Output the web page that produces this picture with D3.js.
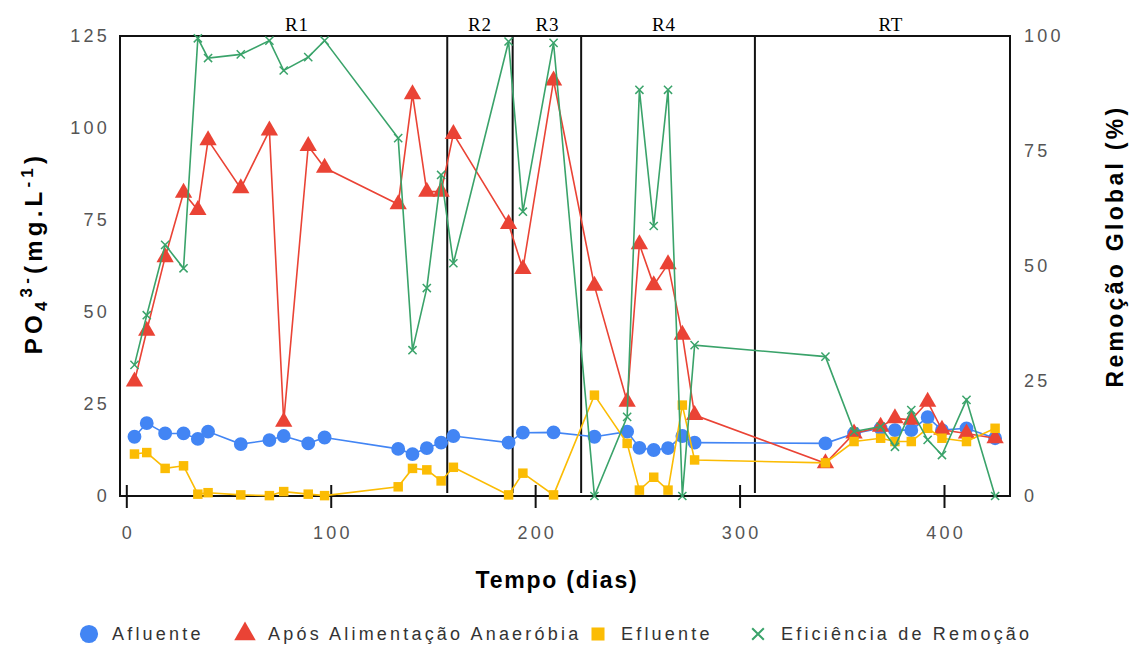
<!DOCTYPE html>
<html>
<head>
<meta charset="utf-8">
<script src="https://cdn.jsdelivr.net/npm/d3@7"></script>
<style>
  body { margin: 0; background: #fff; }
  svg { display: block; font-family: Arial, "Liberation Sans", sans-serif; }
</style>
</head>
<body>
<div id="chart"></div>
<script>
// ---- DATA ----
const days = [4, 10, 19, 28, 35, 40, 56, 70, 77, 89, 97, 133, 140, 147, 154, 160, 187, 194, 209,
  229, 245, 251, 258, 265, 272, 278, 342, 356, 369, 376, 384, 392, 399, 411, 425];

const afluente = [16.1, 19.8, 17.0, 17.0, 15.5, 17.5, 14.1, 15.2, 16.3, 14.3, 15.9, 12.8, 11.4, 13.0,
  14.5, 16.3, 14.5, 17.2, 17.3, 16.1, 17.5, 13.1, 12.5, 13.0, 16.3, 14.5, 14.3, 17.0, 18.4, 17.9,
  17.9, 21.4, 17.9, 18.4, 15.7];

const aposAnaerobia = [31.1, 44.9, 64.9, 82.4, 77.7, 96.7, 83.6, 99.3, 20.2, 95.1, 89.2, 79.3, 109.2,
  82.7, 82.7, 98.4, 73.9, 61.7, 112.9, 57.1, 25.6, 68.4, 57.3, 63.0, 43.8, 22.0, 8.9, 17.0, 18.8,
  21.1, 20.7, 25.6, 18.0, 17.0, 15.7];

const efluente = [11.4, 11.8, 7.5, 8.2, 0.5, 0.9, 0.3, 0.1, 1.2, 0.5, 0.1, 2.5, 7.5, 7.1, 4.1, 7.8,
  0.3, 6.2, 0.3, 27.4, 14.3, 1.6, 5.1, 1.6, 24.7, 9.8, 9.0, 14.8, 15.7, 14.8, 14.8, 18.4, 15.7,
  14.8, 18.4];

const eficiencia = [28.5, 39.3, 54.6, 49.5, 99.5, 95.2, 96.0, 99.0, 92.5, 95.4, 99.0, 77.8, 31.7,
  45.2, 69.8, 50.6, 98.8, 61.8, 98.5, 0, 17.2, 88.3, 58.7, 88.3, 0, 32.8, 30.3, 14.0, 15.1, 10.7,
  18.7, 12.2, 8.9, 20.9, 0];

// reactor phases: boundaries (days) and label positions
const phaseBounds = [157, 189, 222.5, 307.5];
const phaseNames = ["R1", "R2", "R3", "R4", "RT"];
const phaseLabelDays = [83.5, 173, 206, 263, 374];

const xTicks = [0, 100, 200, 300, 400];
const leftTicks = [0, 25, 50, 75, 100, 125];
const rightTicks = [0, 25, 50, 75, 100];

const width = 1132;
const height = 652;
const box = { left: 120, right: 1010, top: 36, bottom: 496 };

const svg = d3.select("#chart")
  .append("svg")
  .attr("width", width)
  .attr("height", height);

// ---- SCALES ----
const x = d3.scaleLinear().domain([0, 400]).range([126.3, 944]);
const yL = d3.scaleLinear().domain([0, 125]).range([box.bottom, box.top]);
const yR = d3.scaleLinear().domain([0, 100]).range([box.bottom, box.top]);

const tickColor = "#555";

// ---- AXES ----
const xAxis = svg.append("g")
  .attr("transform", `translate(0,${box.bottom})`)
  .call(d3.axisBottom(x).tickValues(xTicks).tickSize(12).tickPadding(18).tickFormat(d3.format("d")));
xAxis.select(".domain").remove();
xAxis.selectAll(".tick line").attr("y1", -11).attr("y2", 12).attr("stroke", "#111").attr("stroke-width", 2);
xAxis.selectAll("text").attr("font-size", 18).attr("fill", tickColor).attr("letter-spacing", 3.2)
  .attr("dx", 1.6);

const leftAxis = svg.append("g")
  .attr("transform", `translate(${box.left},0)`)
  .call(d3.axisLeft(yL).tickValues(leftTicks).tickSize(0).tickPadding(10));
leftAxis.select(".domain").remove();
leftAxis.selectAll("text").attr("font-size", 18).attr("fill", tickColor).attr("letter-spacing", 3.2);

const rightAxis = svg.append("g")
  .attr("transform", `translate(${box.right},0)`)
  .call(d3.axisRight(yR).tickValues(rightTicks).tickSize(0).tickPadding(14));
rightAxis.select(".domain").remove();
rightAxis.selectAll("text").attr("font-size", 18).attr("fill", tickColor).attr("letter-spacing", 3.2);

// ---- FRAME ----
svg.append("rect")
  .attr("x", box.left).attr("y", box.top)
  .attr("width", box.right - box.left).attr("height", box.bottom - box.top)
  .attr("fill", "none").attr("stroke", "#111").attr("stroke-width", 2);

// ---- PHASE SEPARATORS ----
svg.selectAll("line.phase")
  .data(phaseBounds)
  .enter()
  .append("line")
  .attr("class", "phase")
  .attr("x1", d => x(d)).attr("x2", d => x(d))
  .attr("y1", box.top).attr("y2", box.bottom - 3)
  .attr("stroke", "#111").attr("stroke-width", 2);

svg.selectAll("text.phase")
  .data(phaseNames)
  .enter()
  .append("text")
  .attr("class", "phase")
  .attr("x", (d, i) => x(phaseLabelDays[i]))
  .attr("y", 31)
  .attr("text-anchor", "middle")
  .attr("font-family", "'Liberation Serif', 'Times New Roman', serif")
  .attr("font-size", 19)
  .attr("letter-spacing", 0.8)
  .text(d => d);

// ---- SERIES ----
const series = [
  { name: "Afluente", values: afluente, y: yL, color: "#4285f4", shape: "circle" },
  { name: "Após Alimentação Anaeróbia", values: aposAnaerobia, y: yL, color: "#ea4335", shape: "triangle" },
  { name: "Efluente", values: efluente, y: yL, color: "#fbbc04", shape: "square" },
  { name: "Eficiência de Remoção", values: eficiencia, y: yR, color: "#3aa36a", shape: "cross" }
];

const symbolFor = {
  circle: d3.symbol().type(d3.symbolCircle).size(150),
  triangle: d3.symbol().type(d3.symbolTriangle).size(130),
  square: d3.symbol().type(d3.symbolSquare).size(90),
  cross: d3.symbol().type(d3.symbolX).size(45)
};

const plot = svg.append("g");

series.forEach(s => {
  const pts = days.map((d, i) => [x(d), s.y(s.values[i])]);
  plot.append("path")
    .attr("d", d3.line()(pts))
    .attr("fill", "none")
    .attr("stroke", s.color)
    .attr("stroke-width", 1.6);

  plot.selectAll(null)
    .data(pts)
    .enter()
    .append("path")
    .attr("transform", p => `translate(${p[0]},${p[1]})`)
    .attr("d", symbolFor[s.shape])
    .attr("fill", s.shape === "cross" ? "none" : s.color)
    .attr("stroke", s.shape === "cross" ? s.color : "none")
    .attr("stroke-width", 1.5);
});

// ---- AXIS TITLES ----
svg.append("text")
  .attr("x", 557).attr("y", 588)
  .attr("text-anchor", "middle")
  .attr("font-size", 23).attr("font-weight", "bold")
  .attr("letter-spacing", 1.8)
  .text("Tempo (dias)");

const leftTitle = svg.append("text")
  .attr("transform", "translate(42,253) rotate(-90)")
  .attr("text-anchor", "middle")
  .attr("font-size", 24).attr("font-weight", "bold")
  .attr("letter-spacing", 4.2);
leftTitle.append("tspan").text("PO");
leftTitle.append("tspan").attr("font-size", 17).attr("dy", 5).text("4");
leftTitle.append("tspan").attr("font-size", 17).attr("dy", -15).text("3-");
leftTitle.append("tspan").attr("dy", 10).text("(mg.L");
leftTitle.append("tspan").attr("font-size", 17).attr("dy", -9).text("-1");
leftTitle.append("tspan").attr("dy", 9).text(")");

svg.append("text")
  .attr("transform", "translate(1123,246) rotate(-90)")
  .attr("text-anchor", "middle")
  .attr("font-size", 23).attr("font-weight", "bold")
  .attr("letter-spacing", 3.3)
  .text("Remoção Global (%)");

// ---- LEGEND ----
const legendX = [89, 245, 598, 758];
const legend = svg.append("g").attr("transform", "translate(0,634)");
series.forEach((s, i) => {
  const sym = {
    circle: d3.symbol().type(d3.symbolCircle).size(260),
    triangle: d3.symbol().type(d3.symbolTriangle).size(200),
    square: d3.symbol().type(d3.symbolSquare).size(170),
    cross: d3.symbol().type(d3.symbolX).size(90)
  }[s.shape];
  legend.append("path")
    .attr("transform", `translate(${legendX[i]},0)`)
    .attr("d", sym)
    .attr("fill", s.shape === "cross" ? "none" : s.color)
    .attr("stroke", s.shape === "cross" ? s.color : "none")
    .attr("stroke-width", 2);
  legend.append("text")
    .attr("x", legendX[i] + 23)
    .attr("y", 6)
    .attr("font-size", 18)
    .attr("letter-spacing", 3.2)
    .attr("fill", "#333")
    .text(s.name);
});
</script>
</body>
</html>
